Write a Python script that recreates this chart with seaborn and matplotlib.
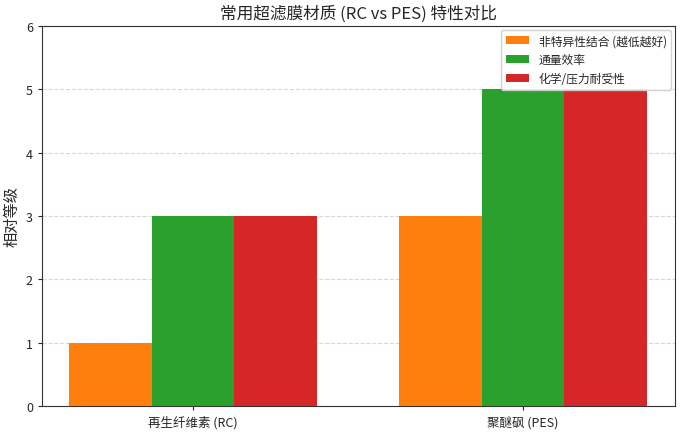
import matplotlib
matplotlib.use("Agg")
import matplotlib.pyplot as plt
import seaborn as sns
import pandas as pd

materials = ["再生纤维素 (RC)", "聚醚砜 (PES)"]
metrics = ["非特异性结合 (越低越好)", "通量效率", "化学/压力耐受性"]
nsb = [1, 3]
flux = [3, 5]
tolerance = [3, 5]
colors = ["#ff7f0e", "#2ca02c", "#d62728"]

rows = []
for m, vals in zip(metrics, [nsb, flux, tolerance]):
    for mat, v in zip(materials, vals):
        rows.append({"材料": mat, "指标": m, "值": v})
df = pd.DataFrame(rows)

sns.set_style("white")
plt.rcParams['font.family'] = ['Noto Sans CJK SC', 'DejaVu Sans']

fig = plt.figure(figsize=(6.83, 4.35), dpi=100)
ax = fig.add_axes([42/683, 1 - 407/435, (675-42)/683, (407-27)/435])
sns.barplot(data=df, x="材料", y="值", hue="指标", palette=colors,
            width=0.75, saturation=1, linewidth=0, edgecolor="none", ax=ax, zorder=3)
ax.set_ylim(0, 6)
ax.set_xlim(-0.457, 1.46)
ax.yaxis.grid(True, linestyle="--", color="#cccccc", alpha=0.8, zorder=0)
ax.set_axisbelow(True)
ax.set_xlabel("")
ax.set_ylabel("相对等级", fontsize=11)
ax.set_title("常用超滤膜材质 (RC vs PES) 特性对比", fontsize=12)
ax.tick_params(axis="both", labelsize=9, length=3, left=True, bottom=True)
for s in ax.spines.values():
    s.set_color("#333333")
    s.set_linewidth(0.8)
ax.legend(title=None, loc="upper right", fontsize=8.5, framealpha=0.9,
          borderaxespad=0.3)
fig.savefig("out.png", dpi=100)
